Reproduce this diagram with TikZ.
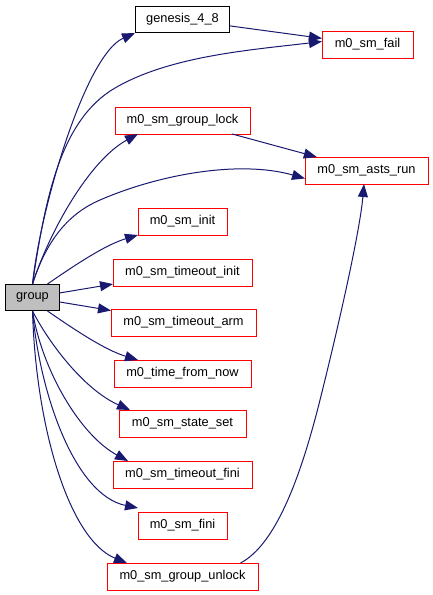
\documentclass[tikz,border=0pt]{standalone}
\usepackage{fontspec}
\setmainfont{Liberation Sans}
\usetikzlibrary{arrows.meta}
\definecolor{edgeblue}{HTML}{191970}
\definecolor{boxred}{HTML}{FF0000}
\definecolor{groupgrey}{HTML}{BFBFBF}
\begin{document}
\begin{tikzpicture}[x=1pt,y=-1pt,
  fn/.style={line width=1pt,minimum height=26pt,inner sep=0pt,font=\fontsize{12.8}{15}\selectfont},
  fnblack/.style={fn,draw=black},
  redframe/.style={draw=boxred,line width=1pt},
  call/.style={draw=edgeblue,line width=1pt,-{Triangle[length=13pt,width=10pt]}}]
\useasboundingbox (0,0) rectangle (433,595);
\node[fnblack,minimum width=94pt] (genesis) at (182.5,19.5) {genesis\_4\_8};
\node[fn,minimum width=90pt] (fail) at (367.5,44.5) {m0\_sm\_fail};
\node[fn,minimum width=134pt] (lock) at (182.5,120.5) {m0\_sm\_group\_lock};
\node[fn,minimum width=122pt] (asts) at (366.5,170.5) {m0\_sm\_asts\_run};
\node[fn,minimum width=88pt] (init) at (182.5,221.5) {m0\_sm\_init};
\node[fn,minimum width=138pt] (tinit) at (182.5,272.5) {m0\_sm\_timeout\_init};
\node[fnblack,fill=groupgrey,minimum width=54pt] (group) at (32.5,297.5) {group};
\node[fn,minimum width=144pt] (tarm) at (183.5,322.5) {m0\_sm\_timeout\_arm};
\node[fn,minimum width=136pt] (tfn) at (182.5,373.5) {m0\_time\_from\_now};
\node[fn,minimum width=126pt] (sset) at (182.5,423.5) {m0\_sm\_state\_set};
\node[fn,minimum width=138pt] (tfini) at (182.5,474.5) {m0\_sm\_timeout\_fini};
\node[fn,minimum width=88pt] (fini) at (182.5,525.5) {m0\_sm\_fini};
\node[fn,minimum width=150pt] (unlock) at (182.5,576.5) {m0\_sm\_group\_unlock};
% red frames
\foreach \n in {fail,lock,asts,init,tinit,tarm,tfn,sset,tfini,fini,unlock}
  \draw[redframe] (\n.north west) rectangle (\n.south east);
% edges
\draw[call] (group.north) .. controls (40,210) and (85,55) .. (genesis.south west);
\draw[call] (genesis) -- (fail);
\draw[call] (group.north) .. controls (45,200) and (60,120) .. (115,88) .. controls (170,56) and (250,50) .. ([yshift=3pt]fail.west);
\draw[call] (group.north) .. controls (50,230) and (90,160) .. ([xshift=23pt]lock.south west);
\draw[call] (group.north) .. controls (45,245) and (65,215) .. (100,200) .. controls (160,174) and (240,160) .. ([yshift=-8pt]asts.west);
\draw[call] (lock) -- (asts);
\draw[call] ([xshift=15pt]group.north) .. controls (75,265) and (105,245) .. (init.south west);
\draw[call] (group) -- (tinit);
\draw[call] (group) -- (tarm);
\draw[call] ([xshift=15pt]group.south) .. controls (75,330) and (105,350) .. ([xshift=24pt]tfn.north west);
\draw[call] (group.south) .. controls (50,345) and (85,390) .. ([xshift=11pt]sset.north west);
\draw[call] (group.south) .. controls (42,370) and (80,435) .. ([xshift=15pt]tfini.north west);
\draw[call] (group.south) .. controls (40,395) and (75,495) .. ([yshift=4pt]fini.north west);
\draw[call] (group.south) .. controls (36,430) and (70,540) .. ([xshift=20pt]unlock.north west);
\draw[call] ([xshift=58pt]unlock.north) .. controls (275,545) and (300,480) .. (320,400) .. controls (340,320) and (360,230) .. ([xshift=-2.5pt]asts.south);
\end{tikzpicture}
\end{document}
